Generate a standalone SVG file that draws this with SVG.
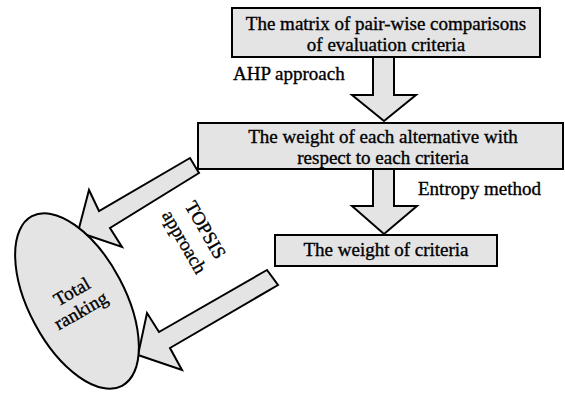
<svg xmlns="http://www.w3.org/2000/svg" width="565" height="393" viewBox="0 0 565 393">
<style>
.shape{fill:#e4e4e4;stroke:#000;stroke-width:2;stroke-linejoin:miter}
.t{font-family:"Liberation Serif","Times New Roman",serif;font-size:19px;fill:#000;stroke:#000;stroke-width:0.35}
.c{text-anchor:middle}
</style>
<rect width="565" height="393" fill="#fff"/>
<g id="connectors">
<polygon class="shape" points="373,57 373,95 352,95 384,121 416,95 394,95 394,57"/>
<polygon class="shape" points="373,169 373,206 352,206 384,234 417,206 394,206 394,169"/>
<polygon class="shape" points="190,158 99,211 89,190 78,232 122,247 110,228 199,173"/>
<polygon class="shape" points="267,270 159,332 147,313 138,355 182,370 170,348 278,285"/>
</g>
<g id="n1">
<rect class="shape" x="232" y="8" width="308" height="49"/>
<text class="t c" x="386" y="30">The matrix of pair-wise comparisons</text>
<text class="t c" x="386" y="51">of evaluation criteria</text>
</g>
<g id="n2">
<rect class="shape" x="198" y="123" width="365" height="46"/>
<text class="t c" x="383" y="143">The weight of each alternative with</text>
<text class="t c" x="383" y="164">respect to each criteria</text>
</g>
<g id="n3">
<rect class="shape" x="275" y="235" width="222" height="31"/>
<text class="t c" x="386" y="256">The weight of criteria</text>
</g>
<g id="n4">
<ellipse class="shape" cx="0" cy="0" rx="48" ry="96" transform="translate(77,301) rotate(-28)"/>
<text class="t c" transform="translate(75,297) rotate(-30)">Total</text>
<text class="t c" transform="translate(84,316) rotate(-30)">ranking</text>
</g>
<g id="labels">
<text class="t" x="233" y="80">AHP approach</text>
<text class="t" x="418" y="195">Entropy method</text>
<text class="t c" transform="translate(200,233) rotate(60)">TOPSIS</text>
<text class="t c" transform="translate(179,245) rotate(60)">approach</text>
</g>
</svg>
